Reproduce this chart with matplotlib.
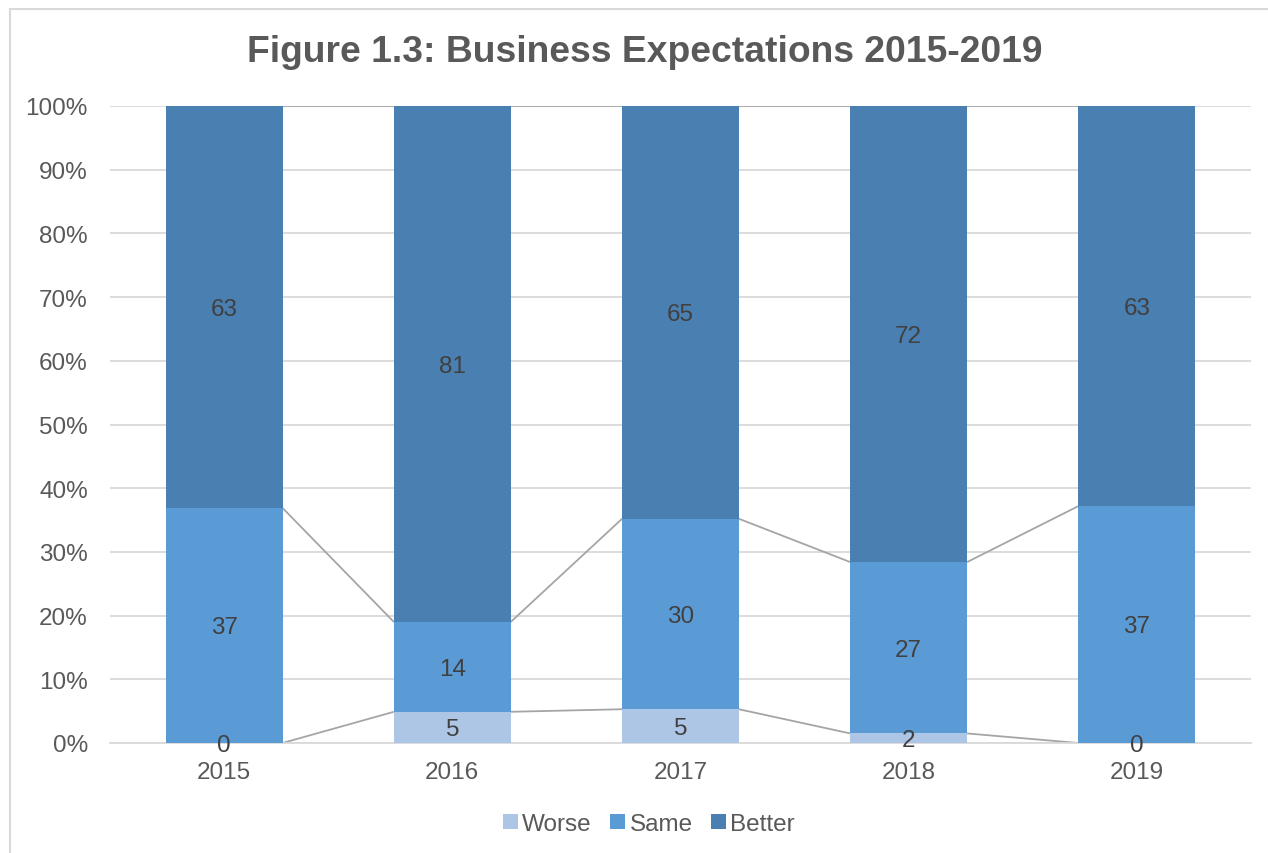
import matplotlib
matplotlib.use("Agg")
import matplotlib.pyplot as plt
from matplotlib.patches import Rectangle
from matplotlib.ticker import FuncFormatter
import numpy as np

plt.rcParams['font.family'] = ['Liberation Sans', 'DejaVu Sans']

years = ["2015", "2016", "2017", "2018", "2019"]
worse = [0.0, 4.9, 5.3, 1.5, 0.0]
same = [36.9, 14.1, 29.9, 26.9, 37.2]
better = [63.1, 81.0, 64.8, 71.6, 62.8]
series_names = ["Worse", "Same", "Better"]
colors = ["#ADC6E6", "#5B9BD5", "#4A7FB1"]

fig = plt.figure(figsize=(12.68, 8.54), dpi=100)
ax = fig.add_axes([110/1268, 1-744/854, (1251-110)/1268, (744-107)/854])

x = np.arange(len(years))
width = 0.512
data = [np.array(worse), np.array(same), np.array(better)]
bottom = np.zeros(len(years))
for vals, name, col in zip(data, series_names, colors):
    ax.bar(x, vals, width, bottom=bottom, color=col, label=name, zorder=3)
    tops = bottom + vals
    # series lines
    for i in range(len(years) - 1):
        ax.plot([x[i] + width/2, x[i+1] - width/2], [tops[i], tops[i+1]],
                color="#A5A5A5", lw=1.3, zorder=2, solid_capstyle='butt')
    for i in range(len(years)):
        ax.text(x[i], bottom[i] + vals[i]/2 - 0.3, f"{vals[i]:.0f}", ha='center', va='center',
                fontsize=17.5, color="#404040", zorder=4)
    bottom = tops

ax.set_xlim(-0.5, len(years) - 0.5)
ax.set_ylim(0, 100)
ax.set_yticks(np.arange(0, 101, 10))
ax.yaxis.set_major_formatter(FuncFormatter(lambda v, p: f"{v:.0f}%"))
ax.set_xticks(x)
ax.set_xticklabels(years)
ax.grid(axis='y', color="#D9D9D9", lw=1.3, zorder=0)
ax.set_axisbelow(True)
for s in ['top', 'right', 'left']:
    ax.spines[s].set_visible(False)
ax.spines['bottom'].set_color("#D9D9D9")
ax.spines['bottom'].set_linewidth(1.3)
ax.tick_params(axis='both', length=0, labelsize=17.5, labelcolor="#595959")
ax.tick_params(axis='y', pad=16)
ax.tick_params(axis='x', pad=13)

fig.text(645/1268, 1-52/854, "Figure 1.3: Business Expectations 2015-2019", ha='center', va='center',
         fontsize=26.8, fontweight='bold', color="#595959")

leg = fig.legend(loc='center', bbox_to_anchor=(649/1268, 1-825/854), ncol=3, frameon=False,
                 fontsize=17.5, handlelength=0.6, handleheight=0.6, handletextpad=0.2,
                 columnspacing=0.75)
for t in leg.get_texts():
    t.set_color("#595959")

fig.patches.append(Rectangle((10/1268, -0.05), 1.2, 1 - 10/854 + 0.05, transform=fig.transFigure,
                             fill=False, edgecolor="#D9D9D9", lw=1.5, clip_on=False))

fig.savefig("out.png", dpi=100)
